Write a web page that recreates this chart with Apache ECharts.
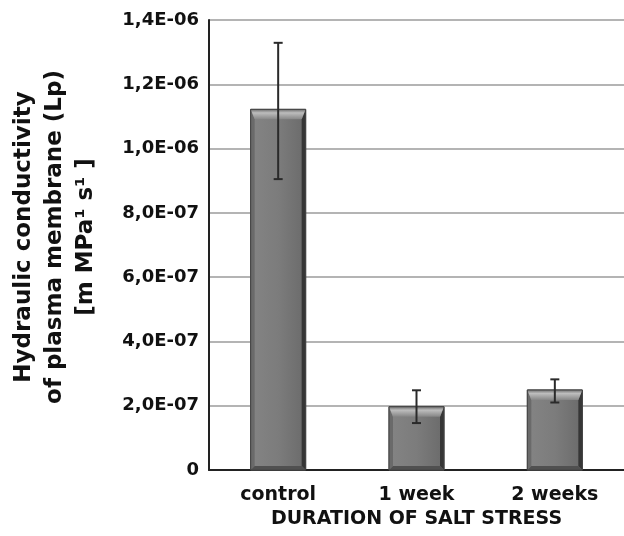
<!DOCTYPE html>
<html>
<head>
<meta charset="utf-8">
<script src="https://cdn.jsdelivr.net/npm/echarts@6/dist/echarts.min.js"></script>
<style>html,body{margin:0;padding:0;background:#fff}#c{width:624px;height:536px}</style>
</head>
<body>
<div id="c"></div>
<script>
var categories = ['control', '1 week', '2 weeks'];
var lpMean = [1.122e-6, 1.97e-7, 2.49e-7];
var lpErrLow = [0.905e-6, 1.46e-7, 2.10e-7];
var lpErrHigh = [1.329e-6, 2.48e-7, 2.82e-7];
var yMin = 0, yMax = 1.4e-6, yStep = 2e-7;
var xTitle = 'DURATION OF SALT STRESS';
var yTitleLines = ['Hydraulic conductivity', 'of plasma membrane (Lp)', '[m MPa\u00b9 s\u00b9 ]'];

var FONT = '"DejaVu Sans", sans-serif';
var chart = echarts.init(document.getElementById('c'), null, {renderer: 'canvas'});

function fmtY(v) {
  if (Math.abs(v) < 1e-12) return '0';
  var s = v.toExponential(1);
  var parts = s.split('e');
  var m = parts[0].replace('.', ',');
  var e = parseInt(parts[1], 10);
  var sign = e < 0 ? '-' : '+';
  var a = Math.abs(e);
  return m + 'E' + sign + (a < 10 ? '0' + a : a);
}

function barItem(params, api) {
  var i = api.value(0);
  var top = api.coord([i, api.value(1)]);
  var bot = api.coord([i, 0]);
  var w = 55;
  var x0 = top[0] - w / 2, x1 = top[0] + w / 2, y0 = top[1], y1 = bot[1];
  var b = 10, s = 4;
  return {
    type: 'group',
    children: [
      {type: 'rect', shape: {x: x0, y: y0, width: w, height: y1 - y0},
       style: {fill: new echarts.graphic.LinearGradient(0, 0, 1, 0, [
         {offset: 0, color: '#848484'}, {offset: 0.5, color: '#7c7c7c'}, {offset: 1, color: '#6a6a6a'}]),
         stroke: '#4a4a4a', lineWidth: 1}},
      {type: 'polygon', shape: {points: [[x0, y0], [x0 + s, y0 + b], [x0 + s, y1 - s], [x0, y1]]},
       style: {fill: '#6a6a6a'}},
      {type: 'polygon', shape: {points: [[x1, y0], [x1, y1], [x1 - s, y1 - s], [x1 - s, y0 + b]]},
       style: {fill: '#363636'}},
      {type: 'polygon', shape: {points: [[x0, y1], [x0 + s, y1 - s], [x1 - s, y1 - s], [x1, y1]]},
       style: {fill: '#505050'}},
      {type: 'polygon', shape: {points: [[x0, y0], [x1, y0], [x1 - s, y0 + b], [x0 + s, y0 + b]]},
       style: {fill: new echarts.graphic.LinearGradient(0, 0, 0, 1, [
         {offset: 0, color: '#6e6e6e'}, {offset: 0.35, color: '#bdbdbd'}, {offset: 1, color: '#868686'}])}},
      {type: 'rect', shape: {x: x0, y: y0, width: w, height: y1 - y0},
       style: {fill: 'none', stroke: '#444444', lineWidth: 1}}
    ]
  };
}

function errItem(params, api) {
  var i = api.value(0);
  var hi = api.coord([i, api.value(2)]);
  var lo = api.coord([i, api.value(1)]);
  var c = 4.5;
  var st = {stroke: '#2a2a2a', lineWidth: 2};
  return {
    type: 'group',
    children: [
      {type: 'line', shape: {x1: hi[0], y1: hi[1], x2: lo[0], y2: lo[1]}, style: st},
      {type: 'line', shape: {x1: hi[0] - c, y1: hi[1], x2: hi[0] + c, y2: hi[1]}, style: st},
      {type: 'line', shape: {x1: lo[0] - c, y1: lo[1], x2: lo[0] + c, y2: lo[1]}, style: st}
    ]
  };
}

var barData = categories.map(function (c, i) { return [i, lpMean[i]]; });
var errData = categories.map(function (c, i) { return [i, lpErrLow[i], lpErrHigh[i]]; });

chart.setOption({
  animation: false,
  backgroundColor: '#ffffff',
  grid: {left: 209, right: -3, top: 20, bottom: 66, containLabel: false},
  xAxis: {
    type: 'category',
    data: categories,
    axisLine: {show: true, lineStyle: {color: '#222', width: 2}},
    axisTick: {show: false},
    axisLabel: {fontSize: 19, fontWeight: 'bold', fontFamily: FONT, color: '#111', margin: 16},
    name: xTitle,
    nameLocation: 'middle',
    nameGap: 38,
    nameTextStyle: {fontSize: 19, fontWeight: 'bold', fontFamily: FONT, color: '#111'}
  },
  yAxis: {
    type: 'value',
    min: yMin, max: yMax, interval: yStep,
    axisLine: {show: true, lineStyle: {color: '#222', width: 2}},
    axisTick: {show: false},
    splitLine: {show: true, lineStyle: {color: '#b4b4b4', width: 2}},
    axisLabel: {fontSize: 18, fontWeight: 'bold', fontFamily: FONT, color: '#111', margin: 10, formatter: fmtY}
  },
  graphic: [{
    type: 'text',
    x: 55, y: 237,
    rotation: Math.PI / 2,
    style: {
      text: yTitleLines.join('\n'),
      fontSize: 23, fontWeight: 'bold', fontFamily: FONT,
      fill: '#111', align: 'center', verticalAlign: 'middle', lineHeight: 31
    }
  }],
  series: [
    {type: 'custom', renderItem: barItem, data: barData, encode: {x: 0, y: 1}, z: 2},
    {type: 'custom', renderItem: errItem, data: errData, encode: {x: 0, y: [1, 2]}, z: 3}
  ]
});
</script>
</body>
</html>
